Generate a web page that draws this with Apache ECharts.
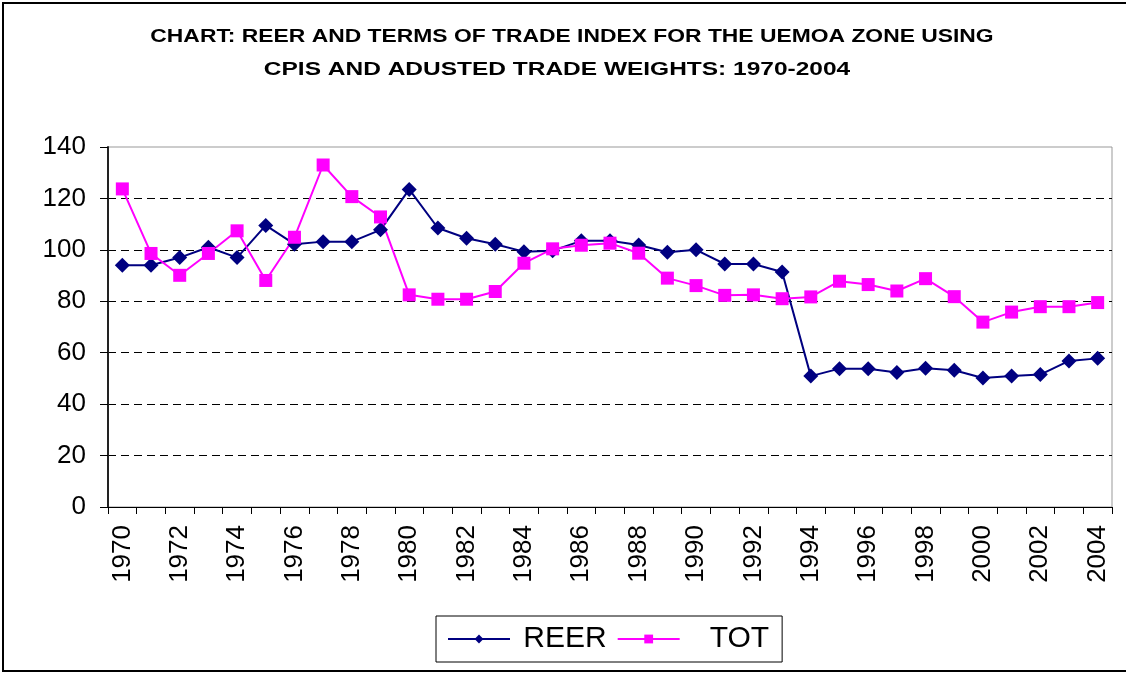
<!DOCTYPE html>
<html>
<head>
<meta charset="utf-8">
<title>REER and TOT</title>
<script src="https://cdn.jsdelivr.net/npm/echarts@6/dist/echarts.min.js"></script>
<style>
    html, body { margin: 0; padding: 0; background: #fff; }
    #chart { width: 1126px; height: 673px; }
</style>
</head>
<body>
<div id="chart"></div>
<script>
//年份
var years = [];
for (var y = 1970; y <= 2004; y++) {
    years.push(String(y));
}
//实际有效汇率
var reerData = [94, 94, 97, 101, 97, 109.5, 102.2, 103.2, 103.2, 107.8,
    123.5, 108.5, 104.5, 102.2, 99.3, 99.7, 103.5, 103.5, 101.9, 99.1,
    100, 94.5, 94.5, 91.4, 50.9, 53.8, 53.8, 52.3, 54, 53.2,
    50.2, 50.9, 51.5, 56.8, 57.8];
//贸易条件
var totData = [123.7, 98.6, 90.1, 98.6, 107.4, 88.1, 104.9, 133, 120.7, 112.8,
    82.5, 80.8, 80.8, 83.8, 94.8, 100.4, 101.8, 102.6, 98.7, 89,
    86.1, 82.3, 82.5, 81, 81.7, 87.8, 86.5, 84, 88.8, 81.8,
    71.9, 75.8, 77.9, 77.9, 79.5];
var yTicks = [0, 20, 40, 60, 80, 100, 120, 140];
var titleLines = [
    'CHART: REER AND TERMS OF TRADE INDEX FOR THE UEMOA ZONE USING',
    'CPIS AND ADUSTED TRADE WEIGHTS: 1970-2004'
];

var myChart = echarts.init(document.getElementById('chart'));

var font = 'Liberation Sans, Arial, sans-serif';

//标题文字(横向拉宽)
function titleText(str, x, top, sx) {
    return {
        type: 'text',
        x: x,
        y: top,
        scaleX: sx,
        silent: true,
        style: {
            text: str,
            font: 'bold 18px ' + font,
            fill: '#000',
            align: 'center',
            verticalAlign: 'middle'
        }
    };
}

var option = {
    backgroundColor: '#fff',
    animation: false,
    graphic: [
        //外框
        {
            type: 'rect',
            shape: { x: 3, y: 3, width: 1126, height: 668 },
            style: { fill: null, stroke: '#000', lineWidth: 2 },
            silent: true
        },
        titleText(titleLines[0], 572, 37, 1.27),
        titleText(titleLines[1], 557, 70, 1.36)
    ],
    //图例
    legend: {
        data: ['REER', 'TOT'],
        left: 436,
        top: 616,
        orient: 'horizontal',
        borderColor: '#000',
        borderWidth: 1,
        padding: [8, 13, 8, 11],
        itemGap: 10,
        itemWidth: 62,
        itemHeight: 11,
        formatter: function (name) {
            return name == 'TOT' ? '   ' + name : ' ' + name;
        },
        textStyle: {
            fontSize: 30,
            color: '#000',
            fontFamily: font
        }
    },
    //绘图区位置
    grid: {
        left: 108,
        right: 14,
        top: 147,
        bottom: 166,
        show: true,
        borderColor: '#999',
        borderWidth: 1,
        containLabel: false
    },
    xAxis: {
        type: 'category',
        boundaryGap: true,
        data: years,
        axisLine: { lineStyle: { color: '#000', width: 1 } },
        axisTick: {
            show: true,
            interval: 0,
            length: 7,
            lineStyle: { color: '#000' }
        },
        axisLabel: {
            interval: 1,//隔一个显示
            rotate: 90,
            margin: 18,
            fontSize: 26,
            color: '#000',
            fontFamily: font
        },
        splitLine: { show: false }
    },
    yAxis: {
        type: 'value',
        min: yTicks[0],
        max: yTicks[yTicks.length - 1],
        interval: 20,
        axisLine: { show: true, lineStyle: { color: '#222', width: 2 } },
        axisTick: { show: true, length: 8, lineStyle: { color: '#000' } },
        axisLabel: {
            margin: 22,
            fontSize: 26,
            color: '#000',
            fontFamily: font
        },
        splitLine: {
            show: true,
            lineStyle: {
                color: ['#000', '#000', '#000', '#000', '#000', '#000', '#000', 'transparent'],
                type: [8, 5],
                width: 1
            }
        }
    },
    series: [
        {
            name: 'REER',
            type: 'line',
            data: reerData,
            symbol: 'diamond',
            symbolSize: 15,
            color: '#000080',
            lineStyle: { color: '#000080', width: 2 },
            itemStyle: { color: '#000080' }
        },
        {
            name: 'TOT',
            type: 'line',
            data: totData,
            symbol: 'rect',
            symbolSize: 13,
            color: '#ff00ff',
            lineStyle: { color: '#ff00ff', width: 2 },
            itemStyle: { color: '#ff00ff' }
        }
    ]
};

myChart.setOption(option);
</script>
</body>
</html>
